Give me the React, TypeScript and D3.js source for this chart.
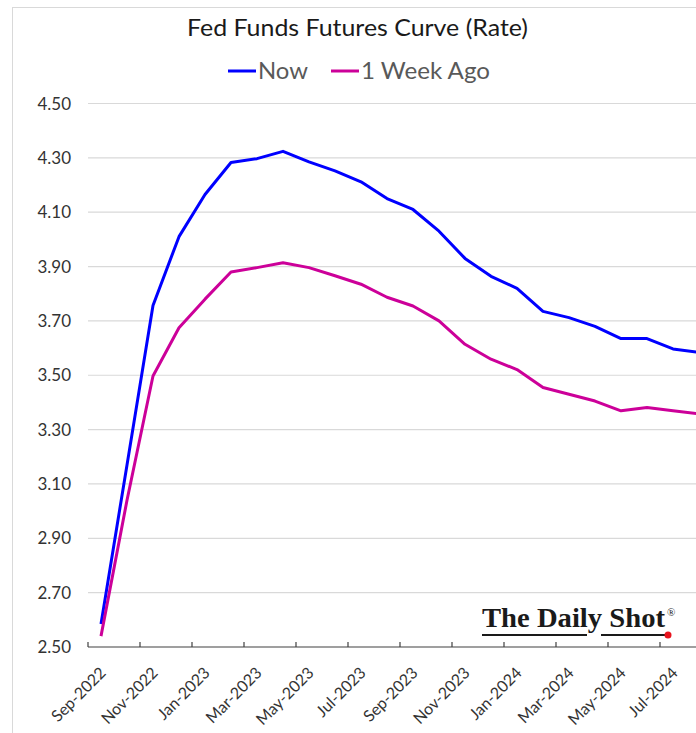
import React, { useRef, useEffect } from "react";
import { select, scaleBand, scaleLinear, line, range } from "d3";

const months = [
  "Sep-2022", "Oct-2022", "Nov-2022", "Dec-2022", "Jan-2023", "Feb-2023",
  "Mar-2023", "Apr-2023", "May-2023", "Jun-2023", "Jul-2023", "Aug-2023",
  "Sep-2023", "Oct-2023", "Nov-2023", "Dec-2023", "Jan-2024", "Feb-2024",
  "Mar-2024", "Apr-2024", "May-2024", "Jun-2024", "Jul-2024", "Aug-2024",
];

const nowRates = [
  2.585, 3.17, 3.757, 4.01, 4.165, 4.283, 4.297, 4.324, 4.285, 4.252, 4.212, 4.15,
  4.11, 4.03, 3.93, 3.864, 3.82, 3.735, 3.712, 3.68, 3.635, 3.635, 3.597, 3.584,
];

const weekAgoRates = [
  2.54, 3.04, 3.497, 3.675, 3.78, 3.88, 3.896, 3.914, 3.896, 3.866, 3.835, 3.787,
  3.755, 3.7, 3.614, 3.559, 3.521, 3.455, 3.43, 3.405, 3.369, 3.381, 3.369, 3.358,
];

const seriesNames = ["Now", "1 Week Ago"];
const seriesColors = ["#0000ff", "#cc0099"];
const yTicks = [2.5, 2.7, 2.9, 3.1, 3.3, 3.5, 3.7, 3.9, 4.1, 4.3, 4.5];

const W = 696;
const H = 733;
const FONT = "Lato, 'Open Sans', sans-serif";

export default function App() {
  const svgRef = useRef<SVGSVGElement>(null);

  useEffect(() => {
    const svg = select(svgRef.current);
    svg.selectAll("*").remove();

    const plotLeft = 88;
    const step = 26;
    const x = scaleBand<string>()
      .domain(months)
      .range([plotLeft, plotLeft + step * months.length]);
    const y = scaleLinear().domain([2.5, 4.5]).range([647, 103.5]);
    const right = plotLeft + step * months.length;

    // chart frame
    svg.append("rect")
      .attr("x", 12.5).attr("y", 7.5)
      .attr("width", 900).attr("height", 900)
      .attr("fill", "#fff")
      .attr("stroke", "#d9d9d9");

    // title
    svg.append("text")
      .attr("x", 357.5).attr("y", 36)
      .attr("text-anchor", "middle")
      .attr("font-family", FONT)
      .attr("font-size", 24)
      .attr("fill", "#1a1a1a")
      .attr("textLength", 341)
      .attr("lengthAdjust", "spacingAndGlyphs")
      .text("Fed Funds Futures Curve (Rate)");

    // legend
    const legendX = [228, 331];
    const legendW = [50, 129];
    seriesNames.forEach((name, i) => {
      svg.append("line")
        .attr("x1", legendX[i]).attr("x2", legendX[i] + 28)
        .attr("y1", 71).attr("y2", 71)
        .attr("stroke", seriesColors[i])
        .attr("stroke-width", 3);
      svg.append("text")
        .attr("x", legendX[i] + 30).attr("y", 79)
        .attr("font-family", FONT)
        .attr("font-size", 24)
        .attr("fill", "#595959")
        .attr("textLength", legendW[i])
        .attr("lengthAdjust", "spacingAndGlyphs")
        .text(name);
    });

    // gridlines
    svg.append("g")
      .selectAll("line")
      .data(yTicks.slice(1))
      .enter()
      .append("line")
      .attr("x1", plotLeft).attr("x2", right)
      .attr("y1", (d) => y(d)).attr("y2", (d) => y(d))
      .attr("stroke", "#d9d9d9")
      .attr("stroke-width", 1.2);

    // y labels
    svg.append("g")
      .selectAll("text")
      .data(yTicks)
      .enter()
      .append("text")
      .attr("x", 71)
      .attr("y", (d) => y(d))
      .attr("dy", "0.36em")
      .attr("text-anchor", "end")
      .attr("font-family", FONT)
      .attr("font-size", 17)
      .attr("fill", "#333")
      .text((d) => d.toFixed(2));

    // x axis
    const axisY = y(2.5);
    svg.append("line")
      .attr("x1", plotLeft).attr("x2", right)
      .attr("y1", axisY).attr("y2", axisY)
      .attr("stroke", "#404040")
      .attr("stroke-width", 1.2);

    const tickMonths = months.filter((_, i) => i % 2 === 0);
    svg.append("g")
      .selectAll("line")
      .data(tickMonths)
      .enter()
      .append("line")
      .attr("x1", (d) => x(d)!).attr("x2", (d) => x(d)!)
      .attr("y1", axisY - 5).attr("y2", axisY)
      .attr("stroke", "#404040")
      .attr("stroke-width", 1.2);

    svg.append("g")
      .selectAll("text")
      .data(tickMonths)
      .enter()
      .append("text")
      .attr("transform", (d) => {
        const cx = x(d)! + x.bandwidth() / 2 - 2;
        return `translate(${cx},${axisY + 19}) rotate(-45)`;
      })
      .attr("text-anchor", "end")
      .attr("dy", "0.7em")
      .attr("font-family", FONT)
      .attr("font-size", 16)
      .attr("fill", "#333")
      .text((d) => d);

    // lines
    const idx = range(months.length);
    [nowRates, weekAgoRates].forEach((vals, s) => {
      const gen = line<number>()
        .x((i) => x(months[i])! + x.bandwidth() / 2)
        .y((i) => y(vals[i]));
      svg.append("path")
        .attr("d", gen(idx))
        .attr("fill", "none")
        .attr("stroke", seriesColors[s])
        .attr("stroke-width", 3)
        .attr("stroke-linejoin", "round");
    });

    // logo
    const logo = svg.append("g");
    logo.append("text")
      .attr("x", 482).attr("y", 627)
      .attr("font-family", "'Liberation Serif', 'DejaVu Serif', serif")
      .attr("font-size", 27)
      .attr("font-weight", "bold")
      .attr("fill", "#1a1a1a")
      .attr("textLength", 183)
      .attr("lengthAdjust", "spacingAndGlyphs")
      .text("The Daily Shot");
    logo.append("text")
      .attr("x", 667).attr("y", 616)
      .attr("font-family", "'Liberation Serif', serif")
      .attr("font-size", 11)
      .attr("fill", "#1a1a1a")
      .text("®");
    [[482, 587], [601, 668]].forEach(([a, b]) => {
      logo.append("line")
        .attr("x1", a).attr("x2", b)
        .attr("y1", 635).attr("y2", 635)
        .attr("stroke", "#1a1a1a")
        .attr("stroke-width", 2);
    });
    logo.append("circle")
      .attr("cx", 668).attr("cy", 635).attr("r", 3.5)
      .attr("fill", "#e8141e");
  }, []);

  return (
    <svg
      ref={svgRef}
      width={W}
      height={H}
      style={{ position: "absolute", left: 0, top: 0, background: "#fff" }}
    />
  );
}
